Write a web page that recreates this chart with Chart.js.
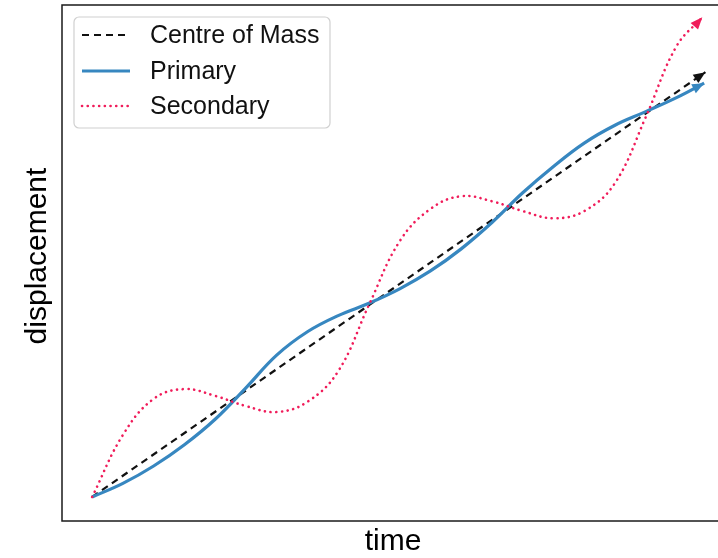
<!DOCTYPE html>
<html>
<head>
<meta charset="utf-8">
<script src="https://cdn.jsdelivr.net/npm/chart.js@4/dist/chart.umd.min.js"></script>
<style>
  html, body { margin: 0; padding: 0; background: #fff; overflow: hidden; }
  #wrap { width: 740px; height: 558px; }
</style>
</head>
<body>
<div id="wrap"><canvas id="chart" width="740" height="558"></canvas></div>
<script>
// time grid for the primary body
const time = [0, 0.5, 1, 1.5, 2, 2.5, 3, 3.5, 4, 4.5, 5, 5.5, 6, 6.5, 7, 7.5, 8, 8.5, 9, 9.5, 9.95];
const primary = [0, 0.32, 0.73, 1.23, 1.83, 2.57, 3.34, 3.89, 4.27, 4.56, 4.90,
                 5.32, 5.84, 6.46, 7.16, 7.78, 8.33, 8.75, 9.07, 9.40, 9.74];

// secondary ends a little earlier (arrow tip)
const secondaryTime = [0, 0.5, 1, 1.5, 2, 2.5, 3, 3.5, 4, 4.5, 5, 5.5, 6, 6.5, 7, 7.5, 8, 8.5, 9, 9.5, 9.92];
const secondary = [0, 1.46, 2.31, 2.54, 2.38, 2.14, 2.00, 2.24, 2.96, 4.52, 6.02,
                   6.78, 7.08, 6.96, 6.73, 6.56, 6.73, 7.39, 8.94, 10.61, 11.29];

// centre of mass is a straight line
const comTime = [0, 9.97];
const com     = [0, 10];

const xy = (xs, ys) => xs.map((x, i) => ({ x, y: ys[i] }));

const COLORS = { com: '#111111', primary: '#3787c0', secondary: '#f01c5a' };

// arrow heads at the end of every line
const arrowHeads = {
  id: 'arrowHeads',
  afterDatasetsDraw(chart) {
    const ctx = chart.ctx;
    chart.data.datasets.forEach((ds, i) => {
      const pts = chart.getDatasetMeta(i).data;
      const end = pts.at(-1);
      let from = pts.at(-2);
      if (end.cp1x !== undefined && (end.cp1x !== end.x || end.cp1y !== end.y)) {
        from = { x: end.cp1x, y: end.cp1y };
      }
      const a = Math.atan2(end.y - from.y, end.x - from.x);
      const len = 12, half = 5;
      ctx.save();
      ctx.translate(end.x, end.y);
      ctx.rotate(a);
      ctx.beginPath();
      ctx.moveTo(0, 0);
      ctx.lineTo(-len, -half);
      ctx.lineTo(-len, half);
      ctx.closePath();
      ctx.fillStyle = ds.borderColor;
      ctx.fill();
      ctx.restore();
    });
  }
};

// frame, axis titles and the legend box
const frame = {
  id: 'frame',
  afterDraw(chart) {
    const { ctx, chartArea: a } = chart;
    ctx.save();
    ctx.strokeStyle = '#1a1a1a';
    ctx.lineWidth = 1.5;
    ctx.strokeRect(a.left, a.top, a.right - a.left, a.bottom - a.top);

    ctx.fillStyle = '#000';
    ctx.font = '30px "Liberation Sans", Arial, sans-serif';
    ctx.textAlign = 'center';
    ctx.textBaseline = 'middle';
    ctx.fillText('time', 393, 542);
    ctx.translate(38, 256);
    ctx.rotate(-Math.PI / 2);
    ctx.fillText('displacement', 0, 0);
    ctx.restore();

    // legend
    ctx.save();
    const bx = 74, by = 17, bw = 256, bh = 111, r = 5;
    ctx.beginPath();
    ctx.roundRect(bx, by, bw, bh, r);
    ctx.fillStyle = 'rgba(255,255,255,0.85)';
    ctx.fill();
    ctx.strokeStyle = '#d0d0d0';
    ctx.lineWidth = 1.2;
    ctx.stroke();

    const rows = [35, 71, 106];
    chart.data.datasets.forEach((ds, i) => {
      const y = rows[i];
      ctx.beginPath();
      ctx.setLineDash(ds.borderDash || []);
      ctx.lineCap = ds.borderCapStyle || 'butt';
      ctx.strokeStyle = ds.borderColor;
      ctx.lineWidth = ds.borderWidth;
      ctx.moveTo(82, y);
      ctx.lineTo(130, y);
      ctx.stroke();
      ctx.setLineDash([]);
      ctx.fillStyle = '#111';
      ctx.font = '25px "Liberation Sans", Arial, sans-serif';
      ctx.textAlign = 'left';
      ctx.textBaseline = 'middle';
      ctx.fillText(ds.label, 150, y + 1);
    });
    ctx.restore();
  }
};

new Chart(document.getElementById('chart'), {
  type: 'line',
  data: {
    datasets: [
      { label: 'Centre of Mass', data: xy(comTime, com), borderColor: COLORS.com,
        borderWidth: 2.2, borderDash: [7, 5], order: 2 },
      { label: 'Primary', data: xy(time, primary), borderColor: COLORS.primary,
        borderWidth: 3.2, tension: 0.4, order: 1 },
      { label: 'Secondary', data: xy(secondaryTime, secondary), borderColor: COLORS.secondary,
        borderWidth: 2.6, borderDash: [0.1, 5.6], borderCapStyle: 'round',
        tension: 0.4, order: 0 },
    ],
  },
  options: {
    responsive: false,
    animation: false,
    layout: { padding: { left: 62, top: 5, right: 2, bottom: 37 } },
    elements: { point: { radius: 0, hoverRadius: 0 } },
    plugins: { legend: { display: false }, tooltip: { enabled: false } },
    scales: {
      x: { type: 'linear', min: -0.49, max: 10.5, display: false },
      y: { type: 'linear', min: -0.565, max: 11.58, display: false },
    },
  },
  plugins: [arrowHeads, frame],
});
</script>
</body>
</html>
